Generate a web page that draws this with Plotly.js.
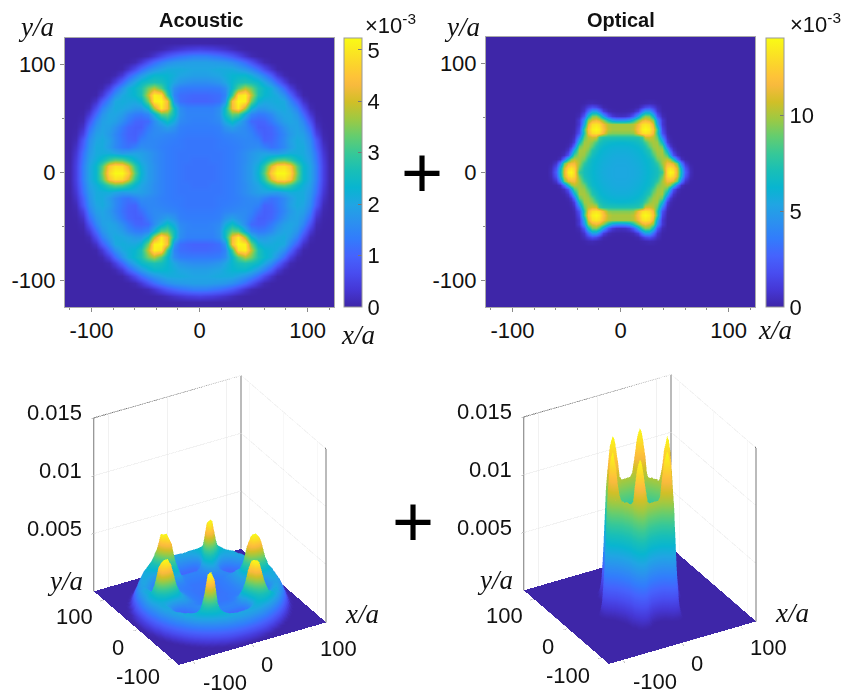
<!DOCTYPE html>
<html><head><meta charset="utf-8">
<script src="https://cdn.plot.ly/plotly-3.0.1.min.js"></script>
<style>html,body{margin:0;padding:0;background:#fff}#g{width:842px;height:694px}</style>
</head><body><div id="g"></div>
<script>
// First-quadrant samples (x>=0, y>=0); units of 1e-3. Shorter rows end in zeros.
const acousticAxis=[0,6,12,18,24,30,36,42,48,54,60,66,72,78,84,90,96,102,108,114,120,126];
const acousticRows=[
[1.2,1.2,1.2,1.25,1.3,1.35,1.45,1.65,1.85,2.3,3.2,4.6,5.2,5.2,4.8,3.4,2.4,2.0,1.4,.5,.05],
[1.2,1.2,1.2,1.25,1.3,1.35,1.45,1.65,1.85,2.2,2.9,4.1,4.8,4.9,4.5,3.2,2.4,2.0,1.4,.5,.05],
[1.2,1.2,1.25,1.25,1.3,1.35,1.45,1.6,1.8,2.0,2.3,2.8,3.2,3.3,3.0,2.5,2.2,1.9,1.3,.45,.03],
[1.25,1.25,1.25,1.25,1.3,1.35,1.45,1.6,1.75,1.9,1.95,1.9,1.85,2.0,2.15,2.15,2.1,1.8,1.2,.35,.02],
[1.25,1.25,1.25,1.3,1.3,1.35,1.4,1.5,1.55,1.6,1.4,1.2,1.3,1.55,1.85,2.1,2.1,1.7,1.0,.25],
[1.25,1.25,1.25,1.3,1.35,1.4,1.45,1.5,1.5,1.4,1.0,1.05,1.25,1.55,1.9,2.1,2.0,1.6,.85,.12],
[1.3,1.3,1.3,1.35,1.45,1.5,1.55,1.55,1.45,1.15,.95,1.0,1.2,1.5,1.8,2.0,1.9,1.4,.5,.06],
[1.35,1.35,1.35,1.4,1.7,1.9,1.7,1.55,1.3,.95,.95,1.05,1.3,1.65,1.9,1.95,1.7,1.1,.25,.02],
[1.4,1.4,1.45,1.55,2.1,2.5,2.1,1.6,1.1,1.0,1.05,1.3,1.6,1.9,2.0,1.9,1.5,.75,.1,.01],
[1.45,1.45,1.45,1.65,2.5,3.3,3.2,2.2,1.5,1.3,1.35,1.55,1.85,2.0,2.0,1.7,1.1,.35,.03],
[1.4,1.4,1.4,1.6,2.5,4.3,5.0,3.8,2.3,1.8,1.8,1.95,2.05,2.1,1.85,1.4,.7,.1],
[1.0,1.0,1.05,1.15,1.7,4.4,5.2,5.1,3.4,2.3,2.1,2.1,2.15,2.05,1.5,.9,.25,.01],
[1.05,1.05,1.1,1.15,1.45,3.0,4.9,5.1,3.9,2.7,2.35,2.2,2.05,1.65,1.05,.35,.03],
[1.3,1.3,1.3,1.35,1.6,2.4,3.2,3.8,3.4,2.7,2.4,2.15,1.7,1.1,.45,.07],
[1.6,1.6,1.65,1.75,2.0,2.35,2.6,2.7,2.6,2.4,2.05,1.6,1.05,.45,.08],
[1.9,1.9,1.95,2.0,2.15,2.3,2.35,2.35,2.15,1.8,1.4,.9,.35,.07],
[2.0,2.0,2.05,2.1,2.1,2.1,1.95,1.75,1.5,1.1,.65,.25,.03],
[1.9,1.9,1.85,1.8,1.75,1.6,1.4,1.1,.75,.35,.1,.01],
[1.4,1.4,1.3,1.2,1.05,.85,.6,.3,.1,.02],
[.5,.45,.42,.33,.25,.13,.05,.01],
[.03,.03,.02,.01,.01],
[0]
];
const opticalXAxis=[0,4,8,12,16,20,23,26,30,34,38,43,46,49,52,56,60,64,68,72,126];
const opticalYAxis=[0,4,8,12,16,20,24,28,32,36,40,44,48,52,56,60,64,68,72,126];
const opticalRows=[
[5.5,5.5,5.55,5.6,5.7,5.9,6.05,6.3,6.6,7.0,8.0,13.0,14,13.6,11.0,6.5,2.5,.4],
[5.5,5.5,5.55,5.6,5.75,5.95,6.1,6.35,6.65,7.1,9.0,12.7,13.3,12.8,10.8,6.0,2.0,.3],
[5.55,5.55,5.6,5.7,5.8,6.0,6.15,6.4,6.9,7.8,9.9,11.5,11.5,11,8.8,3.5,.8,.05],
[5.6,5.6,5.65,5.75,5.9,6.1,6.25,6.5,7.3,9.1,9.9,10.4,9.5,7.0,3.0,.5,.05],
[5.7,5.7,5.75,5.85,6.0,6.2,6.4,7.0,8.3,9.7,10,8.5,5.2,2.0,.5,.05],
[5.85,5.85,5.9,6.0,6.15,6.4,6.9,7.5,9.3,10,9.9,5.8,2.6,.7,.1],
[6.05,6.05,6.1,6.2,6.4,6.8,7.3,8.8,9.8,10,8.8,3.0,.9,.2],
[6.3,6.35,6.4,6.5,6.8,7.3,8.3,9.5,10,9.8,6.5,1.2,.3,.05],
[7.3,7.3,7.35,7.4,7.5,8.2,10.6,10.8,10.3,8.8,3.8,.5,.1],
[9.4,9.4,9.4,9.6,11.5,13,13.3,13,11.5,7.6,2.0,.2],
[10,10,10,10.4,12,13.6,14,13.6,12,8.0,1.5,.1],
[9.9,9.9,9.9,10.2,11.5,13,13.3,13,11,5.5,.9,.03],
[4.5,4.6,5.3,7.0,9.5,11,11.5,11,9.5,4.5,.9],
[.5,.6,1.0,2.2,5.2,8.2,9.5,9.2,6.5,2.2,.3],
[.03,.05,.1,.3,1.2,3.6,5.0,5.0,3.0,.8,.05],
[0,0,.01,.03,.2,.9,1.5,1.8,1.2,.4,.02],
[0,0,0,0,.01,.08,.15,.25,.2,.05],
[0],[0],[0]
];
const heatTicks=[-100,0,100];
const acousticBarTicks=[0,1,2,3,4,5];
const opticalBarTicks=[0,5,10];
const zTicks=[5,10,15];
const zTickLabels=['0.005','0.01','0.015'];
const parula=[[0,'#3e26a8'],[.0635,'#4537d5'],[.127,'#484df0'],[.19,'#4563fd'],[.254,'#327cfc'],[.317,'#2b91ef'],[.381,'#20a5e3'],[.444,'#08b5d0'],[.508,'#19bfb6'],[.571,'#37c897'],[.635,'#64cd6f'],[.698,'#9dc943'],[.762,'#d1bf27'],[.825,'#f8ba3d'],[.857,'#fec338'],[.889,'#fccf2f'],[1,'#f9fb15']];

function mirrorAxis(a){return a.slice(1).reverse().map(v=>-v).concat(a);}
function mirrorGrid(rows,n){
  const full=rows.map(r=>{const p=r.concat(Array(n-r.length).fill(0));return p.slice(1).reverse().concat(p);});
  return full.slice(1).reverse().concat(full);
}
const ax=mirrorAxis(acousticAxis), ox=mirrorAxis(opticalXAxis), oy=mirrorAxis(opticalYAxis);
const az=mirrorGrid(acousticRows,acousticAxis.length), oz=mirrorGrid(opticalRows,opticalXAxis.length);
const W=842,H=694;
const grey='#8a8a8a';
const tickFont={family:'Liberation Sans',size:22,color:'#111'};
function cbar(xpx,ticks){return {x:xpx/W,xanchor:'left',xpad:0,ypad:0,y:1-172.5/H,yanchor:'middle',thickness:18,thicknessmode:'pixels',len:269,lenmode:'pixels',tickvals:ticks,ticktext:ticks.map(String),ticks:'inside',ticklen:4,tickcolor:'#777',outlinecolor:'#999',outlinewidth:1,tickfont:tickFont};}
function heatAxis(anchor,dom,minorStep){return {domain:dom,anchor:anchor,range:[-124.5,124.5],tickvals:heatTicks,ticktext:heatTicks.map(String),ticks:'outside',ticklen:4,tickcolor:grey,showgrid:false,zeroline:false,showline:true,linecolor:'#aaa',mirror:true,tickfont:tickFont,minor:{dtick:minorStep,ticks:'outside',ticklen:2,tickcolor:grey,showgrid:false}};}
const lighting={ambient:1,diffuse:0,specular:0,roughness:1,fresnel:0};
const frameLine={color:'#777',width:2};
function frame(scene){return {type:'scatter3d',scene:scene,mode:'lines',hoverinfo:'skip',showlegend:false,line:frameLine,x:[-125,-125,125,125,125,125],y:[125,125,125,125,125,-125],z:[0,15,15,0,15,15]};}
function frame2(scene){return {type:'scatter3d',scene:scene,mode:'lines',hoverinfo:'skip',showlegend:false,line:frameLine,x:[125,125],y:[-125,-125],z:[15,0]};}
function scene3d(xd,yd){
  const a={range:[-125,125],tickvals:heatTicks,showticklabels:false,title:{text:''},showbackground:false,showgrid:true,gridcolor:'#e4e4e4',gridwidth:1,zeroline:false,showline:false,showspikes:false,ticks:'outside',ticklen:3,tickcolor:grey};
  const lab=(x,y,z,t,dx,dy)=>({x:x,y:y,z:z,text:t,showarrow:false,xshift:dx,yshift:-dy,xanchor:'center',yanchor:'middle',font:tickFont});
  const anns=[
    lab(-125,100,0,'100',-28,18),lab(-125,0,0,'0',-18,19),lab(-125,-100,0,'-100',-32,19),
    lab(-100,-125,0,'-100',31,22),lab(0,-125,0,'0',15,21),lab(100,-125,0,'100',27,22)
  ];
  zTicks.forEach((z,i)=>{anns.push(Object.assign(lab(-125,125,z,zTickLabels[i],-10,-5),{xanchor:'right'}));});
  anns.push({x:-125,y:125,z:0,text:'<i>y/a</i>',showarrow:false,xshift:-29,yshift:10,font:{family:'Liberation Serif',size:27,color:'#111'}});
  anns.push({x:125,y:-125,z:0,text:'<i>x/a</i>',showarrow:false,xshift:36,yshift:8,font:{family:'Liberation Serif',size:27,color:'#111'}});
  return {domain:{x:xd,y:yd},xaxis:Object.assign({},a),yaxis:Object.assign({},a),
    zaxis:Object.assign({},a,{range:[-.15,15],tickvals:zTicks}),
    aspectmode:'manual',aspectratio:{x:1,y:1,z:1.19},
    camera:{projection:{type:'orthographic'},up:{x:0,y:0,z:1},center:{x:0,y:0,z:0},eye:{x:-.433*1.43,y:-.75*1.43,z:.5*1.43}},
    annotations:anns,bgcolor:'rgba(0,0,0,0)'};
}
const data=[
 {type:'heatmap',x:ax,y:ax,z:az,xaxis:'x',yaxis:'y',zsmooth:'best',zmin:0,zmax:5.23,colorscale:parula,colorbar:cbar(344,acousticBarTicks),hoverinfo:'skip'},
 {type:'heatmap',x:ox,y:oy,z:oz,xaxis:'x2',yaxis:'y2',zsmooth:'best',zmin:0,zmax:14.05,colorscale:parula,colorbar:cbar(766,opticalBarTicks),hoverinfo:'skip'},
 {type:'surface',scene:'scene',x:ax,y:ax,z:az,cmin:0,cmax:5.23,colorscale:parula,showscale:false,lighting:lighting,hoverinfo:'skip',contours:{x:{show:false},y:{show:false},z:{show:false}}},
 {type:'surface',scene:'scene2',x:ox,y:oy,z:oz,cmin:0,cmax:14.05,colorscale:parula,showscale:false,lighting:lighting,hoverinfo:'skip',contours:{x:{show:false},y:{show:false},z:{show:false}}},
 frame('scene'),frame2('scene'),frame('scene2'),frame2('scene2')
];
function note(x,y,t,size,fam,extra){return Object.assign({xref:'paper',yref:'paper',x:x/W,y:1-y/H,text:t,showarrow:false,xanchor:'center',yanchor:'middle',font:{family:fam,size:size,color:'#111'}},extra||{});}
const layout={width:W,height:H,margin:{l:0,r:0,t:0,b:0},paper_bgcolor:'#fff',plot_bgcolor:'#fff',showlegend:false,
 xaxis:heatAxis('y',[65/W,334/W],20),yaxis:heatAxis('x',[1-307/H,1-38/H],50),
 xaxis2:heatAxis('y2',[486/W,755/W],20),yaxis2:heatAxis('x2',[1-307/H,1-37/H],50),
 scene:scene3d([40/W,380/W],[1-691/H,1-351/H]),
 scene2:scene3d([470/W,810/W],[1-690/H,1-350/H]),
 annotations:[
  note(201,20,'<b>Acoustic</b>',20,'Liberation Sans'),
  note(621,20,'<b>Optical</b>',20,'Liberation Sans'),
  note(390,24,'×10<sup>-3</sup>',22,'Liberation Sans'),
  note(815,23,'×10<sup>-3</sup>',22,'Liberation Sans'),
  note(36,27,'<i>y/a</i>',27,'Liberation Serif'),
  note(462,27,'<i>y/a</i>',27,'Liberation Serif'),
  note(358,335,'<i>x/a</i>',27,'Liberation Serif'),
  note(775,330,'<i>x/a</i>',27,'Liberation Serif'),
  note(422,172,'+',72,'Liberation Sans',{font:{family:'Liberation Sans',size:72,color:'#000'}}),
  note(413,521,'+',72,'Liberation Sans',{font:{family:'Liberation Sans',size:72,color:'#000'}})
 ]};
Plotly.newPlot('g',data,layout,{displayModeBar:false,plotGlPixelRatio:1});
</script></body></html>
